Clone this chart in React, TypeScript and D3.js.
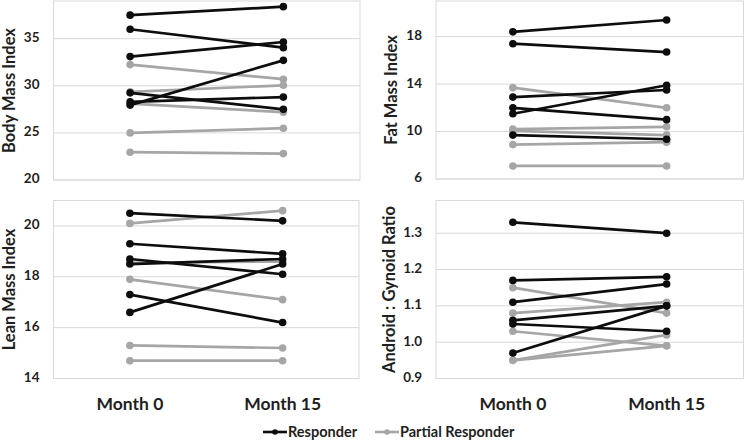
import React from 'react';
import * as d3 from 'd3';

const months = ['Month 0', 'Month 15'];

// [Month 0, Month 15] per participant
const bmiResponder = [[37.5, 38.4], [36.0, 34.05], [33.1, 34.65], [27.95, 32.7], [28.3, 28.8], [29.25, 27.5]];
const bmiPartial = [[32.25, 30.7], [29.35, 30.05], [28.1, 27.2], [25.0, 25.5], [22.95, 22.8]];

const fmiResponder = [[18.4, 19.4], [17.4, 16.7], [12.9, 13.5], [11.5, 13.9], [12.0, 11.0], [9.7, 9.35]];
const fmiPartial = [[13.7, 12.0], [10.2, 10.4], [10.05, 9.7], [8.9, 9.1], [7.1, 7.1]];

const lmiResponder = [[20.5, 20.2], [19.3, 18.9], [18.7, 18.1], [18.5, 18.7], [17.3, 16.2], [16.6, 18.5]];
const lmiPartial = [[20.1, 20.6], [18.55, 18.6], [17.9, 17.1], [15.3, 15.2], [14.7, 14.7]];

const agrResponder = [[1.33, 1.3], [1.17, 1.18], [1.11, 1.16], [1.06, 1.1], [1.05, 1.03], [0.97, 1.1]];
const agrPartial = [[1.15, 1.08], [1.08, 1.11], [1.03, 0.99], [0.95, 1.02], [0.95, 0.99]];

const bmiTicks = [20, 25, 30, 35];
const fmiTicks = [6, 10, 14, 18];
const lmiTicks = [14, 16, 18, 20];
const agrTicks = [0.9, 1.0, 1.1, 1.2, 1.3];

const legendLabels = ['Responder', 'Partial Responder'];

const BLACK = '#0d0d0d';
const GREY = '#a6a6a6';
const GRID = '#d9d9d9';
const TEXT = '#1f1f1f';
const FONT = 'Lato, "Open Sans", sans-serif';

type PanelProps = {
  title: string;
  responder: number[][];
  partial: number[][];
  ticks: number[];
  domain: [number, number];
  fmt: (v: number) => string;
  x0: number;
  x1: number;
  y0: number;
  y1: number;
  titleX: number;
  showX: boolean;
};

function Panel({ title, responder, partial, ticks, domain, fmt, x0, x1, y0, y1, titleX, showX }: PanelProps) {
  const x = d3.scalePoint<string>().domain(months).range([x0, x1]).padding(0.5);
  const y = d3.scaleLinear().domain(domain).range([y1, y0]);
  const line = d3
    .line<number>()
    .x((_, i) => x(months[i]) as number)
    .y((d) => y(d));

  const series = (rows: number[][], color: string, key: string) =>
    rows.map((r, i) => (
      <g key={key + i}>
        <path d={line(r) as string} fill="none" stroke={color} strokeWidth={2.7} />
        {r.map((v, j) => (
          <circle key={j} cx={x(months[j])} cy={y(v)} r={3.8} fill={color} />
        ))}
      </g>
    ));

  return (
    <g>
      {ticks.map((t) => (
        <line key={t} x1={x0} x2={x1} y1={y(t)} y2={y(t)} stroke={GRID} strokeWidth={1} />
      ))}
      <rect x={x0} y={y0} width={x1 - x0} height={y1 - y0} fill="none" stroke={GRID} strokeWidth={1} />
      {ticks.map((t) => (
        <text
          key={'l' + t}
          x={x0 - 14}
          y={y(t)}
          textAnchor="end"
          dominantBaseline="middle"
          fontSize={13.5}
          fontWeight="bold"
          fill={TEXT}
        >
          {fmt(t)}
        </text>
      ))}
      <text
        transform={`translate(${titleX},${(y0 + y1) / 2}) rotate(-90)`}
        textAnchor="middle"
        fontSize={16.5}
        fontWeight="bold"
        fill={TEXT}
      >
        {title}
      </text>
      {/* partial responders underneath, responders on top */}
      {series(partial, GREY, 'p')}
      {series(responder, BLACK, 'r')}
      {showX &&
        months.map((m) => (
          <text key={m} x={x(m)} y={410} textAnchor="middle" fontSize={17.5} fontWeight="bold" fill={TEXT}>
            {m}
          </text>
        ))}
    </g>
  );
}

export default function App() {
  const legendX = [263, 375];
  const legendColors = [BLACK, GREY];
  return (
    <svg
      width={745}
      height={440}
      style={{ position: 'absolute', left: 0, top: 0, background: '#fff' }}
      fontFamily={FONT}
    >
      <Panel
        title="Body Mass Index"
        responder={bmiResponder}
        partial={bmiPartial}
        ticks={bmiTicks}
        domain={[20, 39]}
        fmt={d3.format('d')}
        x0={53.5}
        x1={360}
        y0={1}
        y1={180}
        titleX={15}
        showX={false}
      />
      <Panel
        title="Fat Mass Index"
        responder={fmiResponder}
        partial={fmiPartial}
        ticks={fmiTicks}
        domain={[6, 21]}
        fmt={d3.format('d')}
        x0={436}
        x1={743.5}
        y0={1}
        y1={179}
        titleX={397}
        showX={false}
      />
      <Panel
        title="Lean Mass Index"
        responder={lmiResponder}
        partial={lmiPartial}
        ticks={lmiTicks}
        domain={[14, 21]}
        fmt={d3.format('d')}
        x0={53.5}
        x1={359}
        y0={200.5}
        y1={378.5}
        titleX={15}
        showX={true}
      />
      <Panel
        title="Android : Gynoid Ratio"
        responder={agrResponder}
        partial={agrPartial}
        ticks={agrTicks}
        domain={[0.9, 1.39]}
        fmt={d3.format('.1f')}
        x0={436}
        x1={743.5}
        y0={200.5}
        y1={378.5}
        titleX={395}
        showX={true}
      />
      {legendLabels.map((l, i) => (
        <g key={l}>
          <line x1={legendX[i]} x2={legendX[i] + 24} y1={432} y2={432} stroke={legendColors[i]} strokeWidth={2.6} />
          <circle cx={legendX[i] + 12} cy={432} r={2.8} fill={legendColors[i]} />
          <text x={legendX[i] + 25} y={437} fontSize={14.5} fontWeight="bold" fill={TEXT}>
            {l}
          </text>
        </g>
      ))}
    </svg>
  );
}
